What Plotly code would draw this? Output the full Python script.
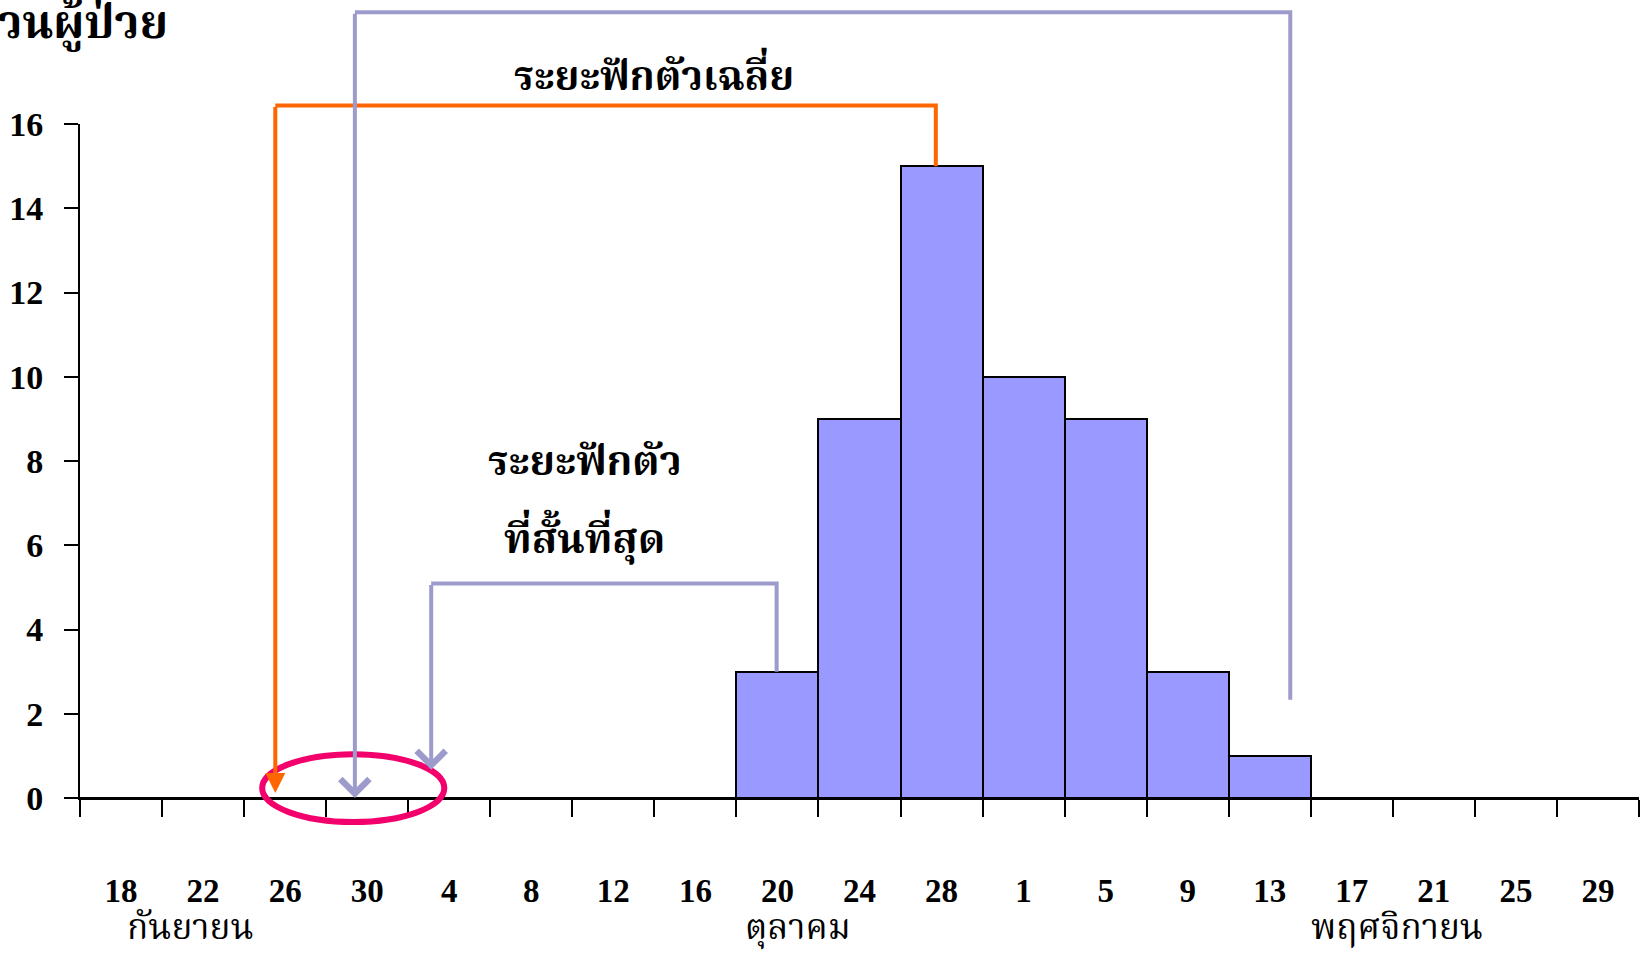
import plotly.graph_objects as go

# ---------------- data ----------------
bin_labels = ["18", "22", "26", "30", "4", "8", "12", "16", "20", "24",
              "28", "1", "5", "9", "13", "17", "21", "25", "29"]
case_counts = [0, 0, 0, 0, 0, 0, 0, 0, 3, 9, 15, 10, 9, 3, 1, 0, 0, 0, 0]
y_tick_values = [0, 2, 4, 6, 8, 10, 12, 14, 16]
month_names = ["กันยายน", "ตุลาคม", "พฤศจิกายน"]
month_centers = [1.35, 8.75, 16.05]          # in bin units

# incubation brackets: left arrow x, right end x, top level, right foot level, arrow tip level
longest_bracket = [3.35, 14.75, 18.65, 2.33, 0.0]
mean_bracket = [2.38, 10.43, 16.44, 15.0, 0.12]
shortest_bracket = [4.28, 8.49, 5.09, 3.0, 0.67]
highlight_ellipse = [2.22, 4.44, -0.57, 1.04]   # x0, x1, y0, y1

N_BINS = len(bin_labels)
Y_MAX = 16

LAVENDER = "#9D9BCC"
ORANGE = "#FF6600"
PINK = "#F2006B"
BAR = "#9999FF"
NUM_FONT = "Liberation Serif, Times New Roman, serif"
THAI_FONT = "Noto Serif Thai, Noto Sans Thai, Liberation Serif, serif"


def px(v):
    return v / N_BINS


def py(v):
    return v / Y_MAX


centers = [i + 0.5 for i in range(N_BINS)]

fig = go.Figure()
fig.add_trace(go.Bar(
    x=centers, y=case_counts, width=1.0,
    marker=dict(color=BAR, line=dict(color="black", width=2)),
    showlegend=False, hoverinfo="skip",
))
# invisible trace to activate xaxis2 (label axis)
fig.add_trace(go.Scatter(x=[0, N_BINS], y=[0, 0], xaxis="x2", mode="lines",
                         line=dict(width=0), showlegend=False, hoverinfo="skip"))

shapes = []
annotations = []


def bracket(b, color, head, hsize):
    x0, x1, top, foot, tip = b
    shapes.append(dict(
        type="path", xref="paper", yref="paper",
        path=f"M {px(x0)},{py(top)} L {px(x1)},{py(top)} L {px(x1)},{py(foot)}",
        line=dict(color=color, width=4), layer="above",
    ))
    annotations.append(dict(
        x=x0, y=tip, xref="x", yref="y", axref="x", ayref="y",
        ax=x0, ay=top, text="", showarrow=True, arrowhead=head,
        arrowsize=hsize, arrowwidth=4, arrowcolor=color, standoff=0,
    ))


bracket(longest_bracket, LAVENDER, 4, 1.4)
bracket(mean_bracket, ORANGE, 2, 1.0)
bracket(shortest_bracket, LAVENDER, 4, 1.4)

e = highlight_ellipse
shapes.append(dict(type="circle", xref="paper", yref="paper",
                   x0=px(e[0]), x1=px(e[1]), y0=py(e[2]), y1=py(e[3]),
                   line=dict(color=PINK, width=6), layer="above"))

# month labels
for name, c in zip(month_names, month_centers):
    annotations.append(dict(x=c, y=py(-3.14), xref="x", yref="paper", text=name,
                            xanchor="center", yanchor="middle", showarrow=False,
                            font=dict(family=THAI_FONT, size=35, color="black")))

annotations += [
    dict(x=7.0, y=py(17.06), xref="x", yref="paper", text="<b>ระยะฟักตัวเฉลี่ย</b>",
         xanchor="center", yanchor="middle", showarrow=False,
         font=dict(family=THAI_FONT, size=40, color="black")),
    dict(x=6.15, y=py(7.92), xref="x", yref="paper", text="<b>ระยะฟักตัว</b>",
         xanchor="center", yanchor="middle", showarrow=False,
         font=dict(family=THAI_FONT, size=41, color="black")),
    dict(x=6.15, y=py(6.07), xref="x", yref="paper", text="<b>ที่สั้นที่สุด</b>",
         xanchor="center", yanchor="middle", showarrow=False,
         font=dict(family=THAI_FONT, size=41, color="black")),
    dict(x=0.058, y=1.145, xref="paper", yref="paper", xanchor="right", yanchor="middle",
         text="<b>จำนวนผู้ป่วย</b>", showarrow=False,
         font=dict(family=THAI_FONT, size=46, color="black")),
    dict(x=0.507, y=1.179, xref="paper", yref="paper", xanchor="right", yanchor="bottom",
         text="<b>ระยะฟักตัวที่ยาวที่สุด</b>", showarrow=False,
         font=dict(family=THAI_FONT, size=40, color="black")),
]

fig.update_layout(
    width=1643, height=957,
    margin=dict(l=80, r=4, t=124, b=159),
    paper_bgcolor="white", plot_bgcolor="white",
    bargap=0,
    shapes=shapes, annotations=annotations,
    xaxis=dict(range=[0, N_BINS], tickvals=list(range(N_BINS + 1)), showticklabels=False,
               ticks="outside", ticklen=17, tickwidth=2, tickcolor="black",
               showline=True, linewidth=2, linecolor="black",
               showgrid=False, zeroline=False, fixedrange=True),
    xaxis2=dict(range=[0, N_BINS], overlaying="x", anchor="y", side="bottom",
                tickvals=centers, ticktext=bin_labels, ticks="", showline=False,
                showgrid=False, zeroline=False, ticklabelstandoff=70,
                tickfont=dict(family=NUM_FONT, size=33, color="black", weight="bold")),
    yaxis=dict(range=[0, Y_MAX], tickvals=y_tick_values, ticks="outside", ticklen=14,
               tickwidth=2, tickcolor="black", showline=True, linewidth=2, linecolor="black",
               showgrid=False, zeroline=False, ticklabelstandoff=14,
               tickfont=dict(family=NUM_FONT, size=34, color="black", weight="bold")),
)

fig.write_html("out.html", config={"displayModeBar": False},
               post_script="document.body.style.margin='0';")
